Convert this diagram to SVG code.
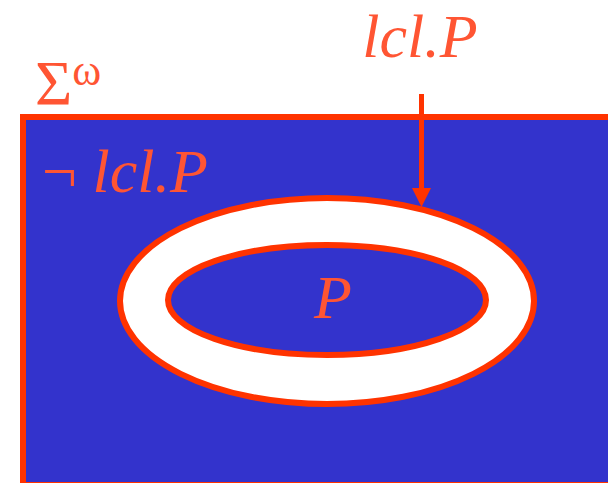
<svg xmlns="http://www.w3.org/2000/svg" width="608" height="483" viewBox="0 0 608 483">
<style>
.lbl{fill:#FF5533}
.it{font-style:italic}
.edge{stroke:#FF3300;stroke-width:6}
</style>
<rect width="608" height="483" fill="#FFFFFF"/>
<g id="universe">
<rect class="edge" x="23" y="117" width="600" height="368" fill="#3333CC"/>
<text class="lbl" font-family="Liberation Serif, DejaVu Serif, serif" x="35" y="105" font-size="64">Σ<tspan font-size="44" dy="-20">ω</tspan></text>
<text class="lbl" font-family="Liberation Serif, DejaVu Serif, serif" x="42" y="192" font-size="62">¬ <tspan class="it">lcl.P</tspan></text>
</g>
<g id="closure">
<ellipse class="edge" cx="327" cy="301" rx="207" ry="103" fill="#FFFFFF"/>
</g>
<g id="P">
<ellipse class="edge" cx="327" cy="300" rx="159" ry="55" fill="#3333CC"/>
<text class="lbl it" font-family="Liberation Serif, DejaVu Serif, serif" x="333" y="318" font-size="62" text-anchor="middle">P</text>
</g>
<g id="lclP-label">
<text class="lbl it" font-family="Liberation Serif, DejaVu Serif, serif" x="420" y="57" font-size="62" text-anchor="middle">lcl.P</text>
</g>
<g id="connectors">
<line x1="421.5" y1="94" x2="421.5" y2="192" stroke="#FF3300" stroke-width="5"/>
<polygon points="412,188 431,188 421.5,207" fill="#FF3300"/>
</g>
</svg>
